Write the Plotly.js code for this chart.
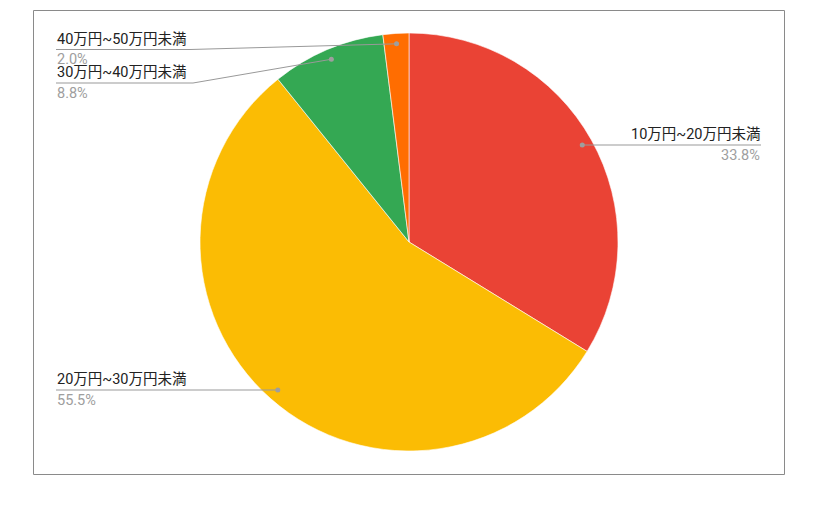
<!DOCTYPE html>
<html>
<head>
<meta charset="utf-8">
<script src="https://cdn.plot.ly/plotly-3.0.1.min.js"></script>
<style>
  html, body { margin: 0; padding: 0; background: #fff; }
  #myDiv { width: 814px; height: 506px; }
</style>
</head>
<body>
<div id="myDiv"></div>
<script>
// data
var labels = ['10万円~20万円未満', '20万円~30万円未満', '30万円~40万円未満', '40万円~50万円未満'];
var values = [33.8, 55.5, 8.8, 2.0];
var colors = ['#ea4335', '#fbbc04', '#34a853', '#ff6d01'];

// layout in pixels
var W = 814, H = 506;
var cx = 409, cy = 242, R = 209;
var FONT = 'Roboto, "Noto Sans CJK JP", sans-serif';

// where each label sits: side, y of the underline, outer x, optional elbow x
var side   = ['right', 'left', 'left', 'left'];
var lineY  = [145, 390, 83, 49.5];
var outerX = [761, 56, 56, 56];
var elbowX = [null, null, 193, 190];

var total = values.reduce(function (a, b) { return a + b; }, 0);

var pie = {
  type: 'pie',
  values: values,
  labels: labels,
  sort: false,
  direction: 'clockwise',
  rotation: 0,
  textinfo: 'none',
  hoverinfo: 'label+percent',
  marker: { colors: colors, line: { color: '#ffffff', width: 0.6 } },
  domain: { x: [(cx - R) / W, (cx + R) / W], y: [1 - (cy + R) / H, 1 - (cy - R) / H] },
  showlegend: false
};

var annotations = [];
var shapes = [{
  type: 'rect', xref: 'x', yref: 'y', x0: 33.5, y0: 10.5, x1: 784.5, y1: 474.5,
  line: { color: '#8a8a8a', width: 1 }, layer: 'below'
}];

var cum = 0;
for (var i = 0; i < values.length; i++) {
  var mid = (cum + values[i] / 2) / total * 2 * Math.PI;
  cum += values[i];
  var dx = cx + 0.95 * R * Math.sin(mid);
  var dy = cy - 0.95 * R * Math.cos(mid);

  // leader line: dot -> (elbow) -> end of underline
  var path = 'M' + dx + ',' + (elbowX[i] === null ? lineY[i] : dy);
  if (elbowX[i] !== null) path += ' L' + elbowX[i] + ',' + lineY[i];
  path += ' L' + outerX[i] + ',' + lineY[i];
  shapes.push({
    type: 'path', xref: 'x', yref: 'y', path: path, layer: 'above',
    line: { color: '#999999', width: 1 }
  });
  shapes.push({
    type: 'circle', xref: 'x', yref: 'y', layer: 'above',
    x0: dx - 2.5, x1: dx + 2.5,
    y0: (elbowX[i] === null ? lineY[i] : dy) - 2.5, y1: (elbowX[i] === null ? lineY[i] : dy) + 2.5,
    fillcolor: '#9e9e9e', line: { width: 0 }
  });

  var anchor = side[i] === 'right' ? 'right' : 'left';
  annotations.push({
    xref: 'x', yref: 'y', x: outerX[i], y: lineY[i] - 1,
    text: labels[i], showarrow: false, xanchor: anchor, yanchor: 'bottom',
    borderpad: 0, font: { family: FONT, size: 14.5, color: '#222222' }
  });
  annotations.push({
    xref: 'x', yref: 'y', x: outerX[i], y: lineY[i] + 0.5,
    text: values[i].toFixed(1) + '%', showarrow: false,
    xanchor: anchor, yanchor: 'top',
    borderpad: 0, font: { family: FONT, size: 14.5, color: '#9e9e9e' }
  });
}

var layout = {
  width: W,
  height: H,
  margin: { l: 0, r: 0, t: 0, b: 0 },
  paper_bgcolor: '#ffffff',
  plot_bgcolor: 'rgba(0,0,0,0)',
  xaxis: { range: [0, W], visible: false, fixedrange: true },
  yaxis: { range: [H, 0], visible: false, fixedrange: true },
  annotations: annotations,
  shapes: shapes
};

Plotly.newPlot('myDiv', [pie], layout, { displayModeBar: false, staticPlot: true });
</script>
</body>
</html>
